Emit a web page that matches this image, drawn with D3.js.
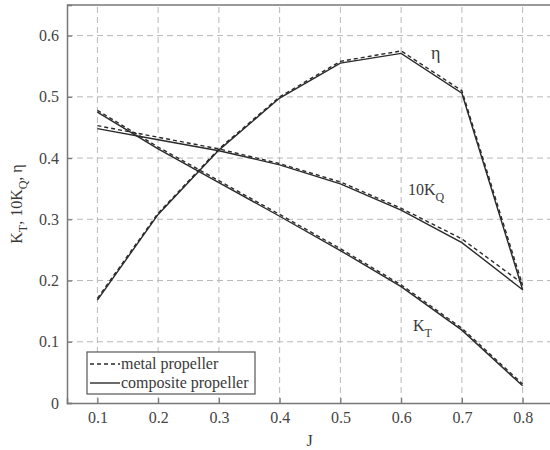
<!DOCTYPE html>
<html>
<head>
<meta charset="utf-8">
<script src="https://cdn.jsdelivr.net/npm/d3@7"></script>
<style>
  body { margin: 0; background: #fff; }
</style>
</head>
<body>
<div id="chart"></div>
<script>
// advance ratio J
var jValues = [0.1, 0.2, 0.3, 0.4, 0.5, 0.6, 0.7, 0.8];

// thrust coefficient KT
var ktMetal     = [0.478, 0.418, 0.363, 0.308, 0.252, 0.193, 0.122, 0.031];
var ktComposite = [0.475, 0.415, 0.360, 0.305, 0.249, 0.190, 0.119, 0.028];

// torque coefficient 10KQ
var kqMetal     = [0.453, 0.434, 0.415, 0.391, 0.361, 0.318, 0.268, 0.195];
var kqComposite = [0.448, 0.430, 0.412, 0.389, 0.358, 0.315, 0.262, 0.185];

// efficiency eta
var etaMetal     = [0.171, 0.310, 0.415, 0.500, 0.558, 0.575, 0.510, 0.192];
var etaComposite = [0.168, 0.308, 0.413, 0.498, 0.555, 0.571, 0.506, 0.185];

var xTicks = [0.1, 0.2, 0.3, 0.4, 0.5, 0.6, 0.7, 0.8];
var yTicks = [0, 0.1, 0.2, 0.3, 0.4, 0.5, 0.6];

var legendNames = ["metal propeller", "composite propeller"];

var FONT = "'Liberation Serif', 'Times New Roman', Times, serif";
var TEXT_COLOR = "#3a3a3a";

var width = 550, height = 450;
var margin = {top: 5, left: 67, bottom: 47};

var x = d3.scaleLinear().domain([0.05, 0.85]).range([margin.left, 553]);
var y = d3.scaleLinear().domain([0, 0.65]).range([height - margin.bottom, margin.top]);

var svg = d3.select("#chart").append("svg")
  .attr("width", width)
  .attr("height", height)
  .attr("font-family", FONT);

// GRID
svg.append("g").selectAll("line")
  .data(xTicks).enter().append("line")
  .attr("x1", function(d){ return x(d); })
  .attr("x2", function(d){ return x(d); })
  .attr("y1", y(0)).attr("y2", y(0.65))
  .attr("stroke", "#b8b8b8").attr("stroke-width", 1)
  .attr("stroke-dasharray", "6,4");

svg.append("g").selectAll("line")
  .data(yTicks.filter(function(d){ return d > 0; })).enter().append("line")
  .attr("x1", x(0.05)).attr("x2", x(0.85))
  .attr("y1", function(d){ return y(d); })
  .attr("y2", function(d){ return y(d); })
  .attr("stroke", "#b8b8b8").attr("stroke-width", 1)
  .attr("stroke-dasharray", "6,4");

// AXES
var xAxis = d3.axisBottom(x).tickValues(xTicks).tickSize(-5).tickPadding(9)
  .tickFormat(d3.format(".1f"));
var gx = svg.append("g")
  .attr("transform", "translate(0," + y(0) + ")")
  .call(xAxis);

var yAxis = d3.axisLeft(y).tickValues(yTicks).tickSize(-5).tickPadding(8)
  .tickFormat(function(d){ return d === 0 ? "0" : d3.format(".1f")(d); });
var gy = svg.append("g")
  .attr("transform", "translate(" + x(0.05) + ",0)")
  .call(yAxis);

[gx, gy].forEach(function(g){
  g.attr("font-family", FONT).attr("font-size", 16);
  g.select(".domain").attr("stroke", "#777").attr("stroke-width", 1.5);
  g.selectAll(".tick line").attr("stroke", "#777").attr("stroke-width", 1.2);
  g.selectAll(".tick text").attr("fill", "#444");
});

// top frame
svg.append("line")
  .attr("x1", x(0.05)).attr("x2", x(0.85))
  .attr("y1", y(0.65)).attr("y2", y(0.65))
  .attr("stroke", "#777").attr("stroke-width", 1.5);

// CURVES
var line = d3.line()
  .x(function(d){ return x(d[0]); })
  .y(function(d){ return y(d[1]); });

var series = [
  {vals: etaComposite, dash: null},
  {vals: kqComposite, dash: null},
  {vals: ktComposite, dash: null},
  {vals: etaMetal, dash: "4,3"},
  {vals: kqMetal, dash: "4,3"},
  {vals: ktMetal, dash: "4,3"}
];

series.forEach(function(s){
  svg.append("path")
    .datum(d3.zip(jValues, s.vals))
    .attr("d", line)
    .attr("fill", "none")
    .attr("stroke", "#2a2a2a")
    .attr("stroke-width", 1.4)
    .attr("stroke-dasharray", s.dash);
});

// CURVE LABELS
svg.append("text").attr("x", 431).attr("y", 59)
  .attr("font-size", 18).attr("fill", TEXT_COLOR).text("η");

var kqLabel = svg.append("text").attr("x", 408).attr("y", 195)
  .attr("font-size", 16).attr("fill", TEXT_COLOR);
kqLabel.append("tspan").text("10K");
kqLabel.append("tspan").attr("dy", 6).attr("font-size", 12).text("Q");

var ktLabel = svg.append("text").attr("x", 413).attr("y", 331)
  .attr("font-size", 16).attr("fill", TEXT_COLOR);
ktLabel.append("tspan").text("K");
ktLabel.append("tspan").attr("dy", 6).attr("font-size", 12).text("T");

// AXIS TITLES
svg.append("text")
  .attr("x", (x(0.05) + 550) / 2 + 1).attr("y", 446)
  .attr("text-anchor", "middle").attr("fill", TEXT_COLOR)
  .attr("font-size", 16).text("J");

var yTitle = svg.append("text")
  .attr("transform", "translate(22," + ((y(0) + y(0.65)) / 2) + ") rotate(-90)")
  .attr("text-anchor", "middle").attr("fill", TEXT_COLOR)
  .attr("font-size", 16);
yTitle.append("tspan").text("K");
yTitle.append("tspan").attr("dy", 5).attr("font-size", 12).text("T");
yTitle.append("tspan").attr("dy", -5).text(", 10K");
yTitle.append("tspan").attr("dy", 5).attr("font-size", 12).text("Q");
yTitle.append("tspan").attr("dy", -5).text(", η");

// LEGEND
var legend = svg.append("g");
legend.append("rect")
  .attr("x", 87).attr("y", 352).attr("width", 168).attr("height", 42)
  .attr("fill", "#fff").attr("stroke", "#555").attr("stroke-width", 1.2);

legendNames.forEach(function(name, i){
  var yy = 364 + i * 19;
  legend.append("line")
    .attr("x1", 90).attr("x2", 120)
    .attr("y1", yy).attr("y2", yy)
    .attr("stroke", "#2a2a2a").attr("stroke-width", 1.4)
    .attr("stroke-dasharray", i === 0 ? "4,3" : null);
  legend.append("text")
    .attr("x", 121).attr("y", yy + 5)
    .attr("font-size", 16).attr("fill", TEXT_COLOR).text(name);
});
</script>
</body>
</html>
